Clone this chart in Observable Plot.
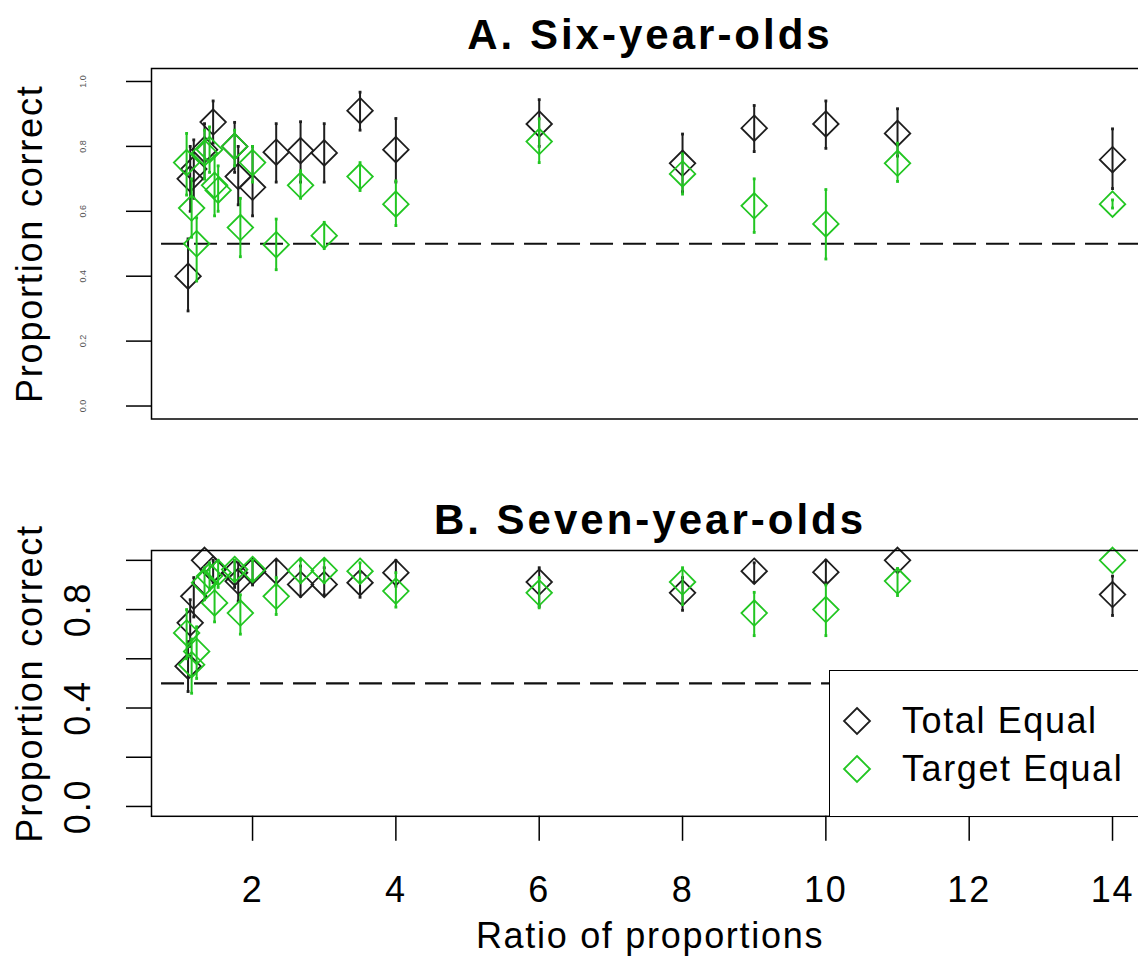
<!DOCTYPE html>
<html>
<head>
<meta charset="utf-8">
<script src="https://cdn.jsdelivr.net/npm/d3@7"></script>
<script src="https://cdn.jsdelivr.net/npm/@observablehq/plot@0.6"></script>
<style>
  html, body { margin: 0; padding: 0; overflow: hidden; background: #fff; }
  #wrap { position: relative; width: 1138px; height: 957px; overflow: hidden; font-family: "Liberation Sans", Arial, Helvetica, sans-serif; color: #000; }
  .abs { position: absolute; }
  .abs svg { max-width: none !important; }
  .title { left: 150px; width: 1000px; text-align: center; font-weight: bold; font-size: 42px; line-height: 42px; letter-spacing: 3px; }
  .xlab { left: 150px; width: 1000px; text-align: center; font-size: 36px; line-height: 36px; letter-spacing: 1.7px; }
  #legend { left: 829px; top: 670px; width: 360px; height: 147px; box-sizing: border-box; border: 1.5px solid #000; background: #fff; }
  .legrow { position: absolute; left: 0; height: 36px; font-size: 36px; line-height: 36px; letter-spacing: 1.6px; white-space: nowrap; }
  .legrow svg { position: absolute; left: 12px; top: 3px; }
  .legrow span { position: absolute; left: 72px; top: 0; }
</style>
</head>
<body>
<div id="wrap">
  <div class="abs title" style="top:14px">A. Six-year-olds</div>
  <div id="panelA" class="abs" style="left:0;top:0"></div>
  <div class="abs title" style="top:499px">B. Seven-year-olds</div>
  <div id="panelB" class="abs" style="left:0;top:460px"></div>
  <div class="abs xlab" style="top:918px">Ratio of proportions</div>
  <div id="legend" class="abs"></div>
</div>
<script>
// ---- data ----
const ratioTotal  = [1.10, 1.13, 1.18, 1.33, 1.45, 1.75, 1.80, 2.00, 2.33, 2.67, 3.00, 3.50, 4, 6, 8, 9, 10, 11, 14];
const ratioTarget = [1.08, 1.15, 1.22, 1.33, 1.40, 1.47, 1.52, 1.75, 1.83, 2.00, 2.33, 2.67, 3.00, 3.50, 4, 6, 8, 9, 10, 11, 14];

const sixTotal    = [0.40, 0.70, 0.73, 0.79, 0.875, 0.80, 0.707, 0.674, 0.782, 0.787, 0.78, 0.91, 0.79, 0.869, 0.748, 0.856, 0.869, 0.84, 0.759];
const sixTotalLo  = [0.293, 0.60, 0.64, 0.70, 0.81, 0.72, 0.62, 0.586, 0.69, 0.69, 0.69, 0.85, 0.69, 0.80, 0.66, 0.784, 0.794, 0.77, 0.67];
const sixTotalHi  = [0.515, 0.80, 0.82, 0.87, 0.94, 0.874, 0.80, 0.80, 0.87, 0.876, 0.87, 0.967, 0.886, 0.944, 0.838, 0.926, 0.94, 0.916, 0.854];

const sixTarget   = [0.75, 0.61, 0.50, 0.78, 0.79, 0.68, 0.665, 0.80, 0.55, 0.75, 0.497, 0.68, 0.525, 0.707, 0.622, 0.815, 0.715, 0.617, 0.561, 0.748, 0.622];
const sixTargetLo = [0.65, 0.52, 0.385, 0.70, 0.72, 0.586, 0.60, 0.74, 0.46, 0.69, 0.42, 0.64, 0.485, 0.664, 0.556, 0.75, 0.653, 0.535, 0.453, 0.692, 0.61];
const sixTargetHi = [0.84, 0.70, 0.58, 0.85, 0.86, 0.77, 0.74, 0.85, 0.64, 0.80, 0.576, 0.725, 0.566, 0.75, 0.694, 0.885, 0.777, 0.70, 0.667, 0.81, 0.635];

const sevenTotal   = [0.57, 0.746, 0.854, 1.0, 0.963, 0.95, 0.915, 0.955, 0.956, 0.902, 0.902, 0.909, 0.95, 0.912, 0.868, 0.956, 0.952, 1.0, 0.861];
const sevenTotalLo = [0.467, 0.65, 0.77, 1.0, 0.91, 0.89, 0.834, 0.90, 0.90, 0.854, 0.86, 0.85, 0.895, 0.813, 0.797, 0.91, 0.91, 1.0, 0.776];
const sevenTotalHi = [0.67, 0.84, 0.93, 1.0, 1.0, 1.0, 0.99, 1.0, 1.0, 0.977, 0.97, 0.95, 1.0, 0.97, 0.93, 0.99, 1.0, 1.0, 0.936];

const sevenTarget   = [0.705, 0.576, 0.63, 0.909, 0.936, 0.827, 0.95, 0.963, 0.786, 0.963, 0.854, 0.959, 0.959, 0.956, 0.875, 0.868, 0.912, 0.786, 0.80, 0.916, 1.0];
const sevenTargetLo = [0.60, 0.46, 0.52, 0.84, 0.88, 0.75, 0.89, 0.92, 0.70, 0.92, 0.78, 0.91, 0.91, 0.916, 0.81, 0.807, 0.82, 0.694, 0.694, 0.857, 1.0];
const sevenTargetHi = [0.80, 0.68, 0.73, 0.97, 0.99, 0.90, 1.0, 1.0, 0.86, 1.0, 0.93, 1.0, 1.0, 0.99, 0.95, 0.93, 0.97, 0.87, 0.90, 0.967, 1.0];

const seriesNames = ["Total Equal", "Target Equal"];
const seriesColors = ["#1e1e1e", "#22c622"];
const chanceLevel = [0.5];
const chanceSpan = [0.73, 14.6];
const xTicks = [2, 4, 6, 8, 10, 12, 14];
const yTicks = [0, 0.2, 0.4, 0.6, 0.8, 1.0];
const yLabelsA = [0, 0.2, 0.4, 0.6, 0.8, 1.0];
const yLabelsB = [0, 0.4, 0.8];
const xDomain = [0.59, 14.516];
const yDomain = [-0.04, 1.04];

function table(xs, m, lo, hi) {
  return xs.map((x, i) => ({x, y: m[i], lo: lo[i], hi: hi[i]}));
}

function seriesMarks(rows, color) {
  const bars = rows.filter(d => d.hi > d.lo);
  return [
    Plot.ruleX(bars, {x: "x", y1: "lo", y2: "hi", stroke: color, strokeWidth: 2}),
    Plot.dot(bars, {x: "x", y: "lo", r: 1.6, symbol: "square", fill: color}),
    Plot.dot(bars, {x: "x", y: "hi", r: 1.6, symbol: "square", fill: color}),
    Plot.dot(rows, {x: "x", y: "y", r: 11.5, symbol: "diamond2", stroke: color, strokeWidth: 1.8, fill: "none"})
  ];
}

function panel(opts) {
  const marks = [
    Plot.ruleY(chanceLevel, {x1: chanceSpan[0], x2: chanceSpan[1], stroke: "#111", strokeWidth: 2.2, strokeDasharray: "23,10"}),
    ...seriesMarks(opts.total, seriesColors[0]),
    ...seriesMarks(opts.target, seriesColors[1]),
    Plot.frame({stroke: "#000", strokeWidth: 1.5}),
    Plot.axisY({ticks: yTicks, tickSize: 25, tickFormat: () => "", label: null, stroke: "#000", strokeWidth: 1.5}),
    Plot.text(opts.yLabels, {y: d => d, text: d => d.toFixed(1), frameAnchor: "left", textAnchor: "middle", lineAnchor: "middle", dx: opts.labelDx, rotate: -90, fontSize: opts.labelSize, fill: opts.labelFill}),
    Plot.text(["Proportion correct"], {frameAnchor: "left", textAnchor: "middle", lineAnchor: "middle", dx: -121, rotate: -90, fontSize: 36, fill: "#000"})
  ];
  if (opts.xAxis) {
    marks.push(Plot.axisX({ticks: xTicks, tickSize: 25, tickPadding: 35, fontSize: 36, tickFormat: d => String(d), label: null, stroke: "#000", strokeWidth: 1.5}));
  }
  const svg = Plot.plot({
    width: 1200,
    height: opts.height,
    marginLeft: 151,
    marginRight: 51,
    marginTop: opts.marginTop,
    marginBottom: opts.marginBottom,
    x: {domain: xDomain, axis: opts.xAxis ? undefined : null},
    y: {domain: yDomain},
    style: {fontFamily: "'Liberation Sans', Arial, Helvetica, sans-serif", background: "transparent", overflow: "visible", color: "#000", maxWidth: "none"},
    marks
  });
  svg.style.maxWidth = "none";
  svg.setAttribute("width", 1200);
  d3.select(svg).selectAll("text").each(function() {
    const fs = this.closest("[font-size]");
    const size = fs ? parseFloat(fs.getAttribute("font-size")) : 10;
    if (size >= 30) d3.select(this).style("letter-spacing", "1.8px");
  });
  return svg;
}

const sixT = table(ratioTotal, sixTotal, sixTotalLo, sixTotalHi);
const sixG = table(ratioTarget, sixTarget, sixTargetLo, sixTargetHi);
const sevT = table(ratioTotal, sevenTotal, sevenTotalLo, sevenTotalHi);
const sevG = table(ratioTarget, sevenTarget, sevenTargetLo, sevenTargetHi);

document.getElementById("panelA").appendChild(panel({
  total: sixT, target: sixG, height: 440, marginTop: 68, marginBottom: 21.5,
  yLabels: yLabelsA, labelDx: -68, labelSize: 9, labelFill: "#555", xAxis: false
}));
document.getElementById("panelB").appendChild(panel({
  total: sevT, target: sevG, height: 497, marginTop: 90, marginBottom: 141.2,
  yLabels: yLabelsB, labelDx: -73, labelSize: 36, labelFill: "#000", xAxis: true
}));

// legend
const legend = document.getElementById("legend");
seriesNames.forEach((name, i) => {
  const row = document.createElement("div");
  row.className = "legrow";
  row.style.top = (i === 0 ? 32 : 80) + "px";
  row.innerHTML = `<svg width="30" height="30" viewBox="0 0 30 30"><polygon points="15,2 28,15 15,28 2,15" fill="none" stroke="${seriesColors[i]}" stroke-width="1.8"/></svg><span>${name}</span>`;
  legend.appendChild(row);
});
</script>
</body>
</html>
